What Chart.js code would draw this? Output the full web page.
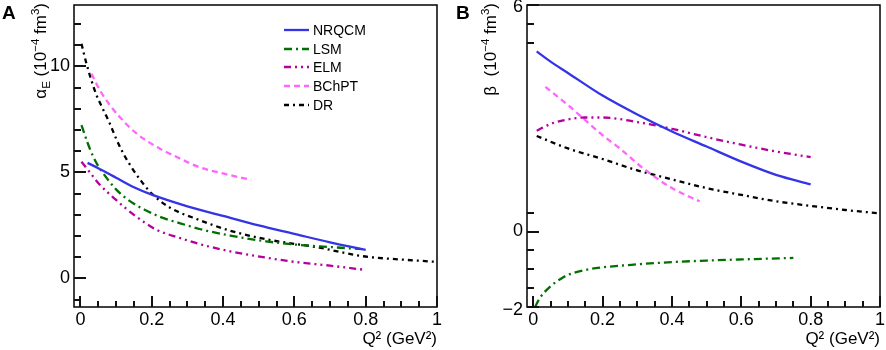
<!DOCTYPE html>
<html>
<head>
<meta charset="utf-8">
<script src="https://cdn.jsdelivr.net/npm/chart.js@4.4.0/dist/chart.umd.min.js"></script>
<style>
  body { margin: 0; background: #fff; }
  #wrap { position: relative; width: 886px; height: 350px; }
  canvas { position: absolute; top: 0; }
  #cA { left: 0; }
  #cB { left: 443px; }
</style>
</head>
<body>
<div id="wrap">
  <canvas id="cA" width="443" height="350"></canvas>
  <canvas id="cB" width="443" height="350"></canvas>
</div>
<script>
// ============================
// Dados - painel A (alpha_E)
// ============================
const qA_nrqcm = [0.02, 0.05, 0.1, 0.15, 0.2, 0.3, 0.4, 0.5, 0.6, 0.7, 0.8];
const aE_nrqcm = [5.45, 5.2, 4.75, 4.3, 3.95, 3.4, 2.95, 2.5, 2.1, 1.7, 1.35];

const qA_lsm = [0.003, 0.02, 0.036, 0.05, 0.064, 0.08, 0.1, 0.13, 0.16, 0.18, 0.227, 0.28, 0.334, 0.42, 0.52, 0.6, 0.7, 0.79];
const aE_lsm = [7.23, 6.4, 5.74, 5.3, 4.96, 4.6, 4.2, 3.75, 3.42, 3.24, 2.88, 2.6, 2.33, 2.02, 1.75, 1.6, 1.48, 1.38];

const qA_elm = [0.003, 0.036, 0.05, 0.1, 0.15, 0.213, 0.28, 0.334, 0.42, 0.52, 0.6, 0.7, 0.79];
const aE_elm = [5.5, 4.8, 4.5, 3.7, 3.0, 2.3, 1.9, 1.62, 1.28, 0.98, 0.78, 0.6, 0.42];

const qA_bchpt = [0.031, 0.055, 0.083, 0.11, 0.157, 0.222, 0.269, 0.33, 0.4, 0.479];
const aE_bchpt = [9.66, 8.87, 8.17, 7.62, 6.84, 6.13, 5.74, 5.27, 4.95, 4.65];

const qA_dr = [0.003, 0.017, 0.031, 0.045, 0.06, 0.08, 0.1, 0.12, 0.145, 0.17, 0.2, 0.25, 0.334, 0.42, 0.52, 0.67, 0.79, 0.9, 1.0];
const aE_dr = [11.07, 10.13, 9.34, 8.65, 8.1, 7.4, 6.6, 5.9, 5.2, 4.6, 4.0, 3.35, 2.75, 2.25, 1.85, 1.45, 1.05, 0.89, 0.78];

// ============================
// Dados - painel B (beta)
// ============================
const qB_nrqcm = [0.01, 0.05, 0.1, 0.2, 0.3, 0.4, 0.5, 0.6, 0.7, 0.8];
const bM_nrqcm = [4.77, 4.5, 4.2, 3.6, 3.1, 2.65, 2.25, 1.85, 1.5, 1.25];

const qB_lsm = [0.005, 0.02, 0.05, 0.08, 0.1, 0.15, 0.2, 0.3, 0.4, 0.5, 0.6, 0.75];
const bM_lsm = [-2.0, -1.75, -1.45, -1.25, -1.15, -1.02, -0.95, -0.87, -0.81, -0.77, -0.74, -0.7];

const qB_elm = [0.01, 0.05, 0.1, 0.15, 0.2, 0.3, 0.4, 0.5, 0.6, 0.7, 0.8];
const bM_elm = [2.67, 2.85, 2.97, 3.02, 3.02, 2.9, 2.72, 2.5, 2.3, 2.12, 1.97];

const qB_bchpt = [0.035, 0.1, 0.15, 0.2, 0.25, 0.3, 0.35, 0.4, 0.45, 0.48];
const bM_bchpt = [3.83, 3.35, 2.95, 2.55, 2.2, 1.8, 1.45, 1.15, 0.92, 0.8];

const qB_dr = [0.01, 0.1, 0.2, 0.3, 0.4, 0.5, 0.6, 0.7, 0.8, 0.9, 1.0];
const bM_dr = [2.53, 2.2, 1.92, 1.62, 1.38, 1.15, 0.97, 0.8, 0.68, 0.57, 0.48];

// ============================
// Eixos / ticks
// ============================
const xTicks = [0, 0.05, 0.1, 0.15, 0.2, 0.25, 0.3, 0.35, 0.4, 0.45, 0.5, 0.55, 0.6, 0.65, 0.7, 0.75, 0.8, 0.85, 0.9, 0.95, 1.0];
const xMajor = [0, 0.2, 0.4, 0.6, 0.8, 1.0];
const xMajorLabels = ["0", "0.2", "0.4", "0.6", "0.8", "1"];

const yTicksA = [-1, 0, 1, 2, 3, 4, 5, 6, 7, 8, 9, 10, 11, 12];
const yMajorA = [0, 5, 10];
const yMajorLabelsA = ["0", "5", "10"];

const yTicksB = [-2, -1.5, -1, -0.5, 0, 0.5, 5, 5.5, 6];
const yMajorB = [-2, 0, 6];
const yMajorLabelsB = ["\u22122", "0", "6"];

const seriesNames = ["NRQCM", "LSM", "ELM", "BChPT", "DR"];

const FONT = "'Liberation Sans', Arial, Helvetica, sans-serif";
const estilos = {
  NRQCM: { color: "#3434e6", dash: [] },
  LSM:   { color: "#007000", dash: [8, 4, 2, 4] },
  ELM:   { color: "#b4009c", dash: [7, 4, 2, 4, 2, 4] },
  BChPT: { color: "#ff66ff", dash: [6, 4] },
  DR:    { color: "#000000", dash: [5, 4, 2, 4] }
};

function labelFor(v, majors, labels) {
  const i = majors.findIndex(m => Math.abs(m - v) < 1e-9);
  return i >= 0 ? labels[i] : "";
}

function pts(xs, ys) {
  return xs.map((x, i) => ({ x: x, y: ys[i] }));
}

function drawVTitle(ctx, parts, cx, yTop, size) {
  ctx.save();
  let total = 0;
  const widths = parts.map(([t, s]) => {
    ctx.font = `${s ? size * 0.68 : size}px ${FONT}`;
    const w = ctx.measureText(t).width;
    total += w;
    return w;
  });
  ctx.translate(cx, yTop + total);
  ctx.rotate(-Math.PI / 2);
  ctx.textBaseline = "alphabetic";
  ctx.fillStyle = "#000";
  let xx = 0;
  parts.forEach(([t, s], i) => {
    ctx.font = `${s ? size * 0.68 : size}px ${FONT}`;
    const dy = size * 0.36 + (s < 0 ? size * 0.22 : s > 0 ? -size * 0.42 : 0);
    ctx.fillText(t, xx, dy);
    xx += widths[i];
  });
  ctx.restore();
}

// ============================
// Moldura, ticks internos, titulo e legenda
// ============================
function framePluginFor(o) {
  return {
    id: "frame" + o.letter,
    afterDraw(chart) {
      const ctx = chart.ctx;
      const a = chart.chartArea;
      const sx = chart.scales.x;
      const sy = chart.scales.y;
      ctx.save();
      ctx.setLineDash([]);
      ctx.strokeStyle = "#000";
      ctx.lineWidth = 1.5;
      ctx.strokeRect(a.left, a.top, a.right - a.left, a.bottom - a.top);

      // ticks para dentro (estilo ROOT)
      ctx.fillStyle = "#111";
      xTicks.forEach(v => {
        const px = Math.round(sx.getPixelForValue(v));
        const len = labelFor(v, xMajor, xMajorLabels) ? 11 : 6;
        ctx.fillRect(px - 1, a.bottom - len, 2, len);
      });
      o.yTicks.forEach(v => {
        const py = Math.round(sy.getPixelForValue(v));
        const len = labelFor(v, o.yMajor, o.yMajorLabels) ? 12 : 7;
        ctx.fillRect(a.left, py - 1, len, 2);
      });

      // letra do painel
      ctx.fillStyle = "#000";
      ctx.font = `bold 19px ${FONT}`;
      ctx.textBaseline = "top";
      ctx.textAlign = "left";
      ctx.fillText(o.letter, o.letterX, 4);

      drawVTitle(ctx, o.yTitle, o.yTitleX, 3, 17);

      // legenda
      if (o.legend) {
        const ys = [30, 49, 67, 86, 105];
        ctx.font = `14px ${FONT}`;
        ctx.textBaseline = "middle";
        ctx.fillStyle = "#000";
        seriesNames.forEach((n, i) => {
          const st = estilos[n];
          ctx.strokeStyle = st.color;
          ctx.lineWidth = 2.3;
          ctx.setLineDash(st.dash);
          ctx.beginPath();
          ctx.moveTo(284, ys[i]);
          ctx.lineTo(309, ys[i]);
          ctx.stroke();
          ctx.setLineDash([]);
          ctx.fillText(n, 313, ys[i] + 1);
        });
      }
      ctx.restore();
    }
  };
}

function makeChart(id, datasetsXY, yMin, yMax, o, yWidth) {
  const ctx = document.getElementById(id).getContext("2d");
  return new Chart(ctx, {
    type: "line",
    data: {
      datasets: seriesNames.map((n, i) => ({
        label: n,
        data: pts(datasetsXY[i][0], datasetsXY[i][1]),
        borderColor: estilos[n].color,
        borderDash: estilos[n].dash,
        borderWidth: 2.3,
        pointRadius: 0,
        fill: false,
        cubicInterpolationMode: "monotone"
      }))
    },
    options: {
      responsive: false,
      animation: false,
      devicePixelRatio: 1,
      layout: { padding: { top: 5, right: 6, bottom: 0, left: 0 } },
      plugins: { legend: { display: false }, tooltip: { enabled: false } },
      scales: {
        x: {
          type: "linear",
          min: -0.018,
          max: 1.0,
          afterBuildTicks: s => { s.ticks = xTicks.map(v => ({ value: v })); },
          afterFit: s => { s.height = 43; s.paddingLeft = 0; s.paddingRight = 0; },
          ticks: {
            autoSkip: false,
            maxRotation: 0,
            padding: 2,
            color: "#000",
            font: { family: FONT, size: 18 },
            callback: v => labelFor(v, xMajor, xMajorLabels)
          },
          grid: { drawOnChartArea: false, drawTicks: false },
          border: { display: false },
          title: {
            display: true,
            text: "Q\u00b2 (GeV\u00b2)",
            align: "end",
            color: "#000",
            font: { family: FONT, size: 17 },
            padding: { top: 0, bottom: 0 }
          }
        },
        y: {
          type: "linear",
          min: yMin,
          max: yMax,
          afterBuildTicks: s => { s.ticks = o.yTicks.map(v => ({ value: v })); },
          afterFit: s => { s.width = yWidth; s.paddingTop = 0; s.paddingBottom = 0; },
          ticks: {
            autoSkip: false,
            padding: 4,
            color: "#000",
            font: c => ({ family: FONT, size: 18, lineHeight: o.labelShift(c.tick ? c.tick.value : 0) }),
            callback: v => {
              const l = labelFor(v, o.yMajor, o.yMajorLabels);
              // rotulos nas pontas ficam um pouco abaixo do tick, como no original
              return o.labelShift(v) !== 1.2 && l ? ["", l] : l;
            }
          },
          grid: { drawOnChartArea: false, drawTicks: false },
          border: { display: false }
        }
      }
    },
    plugins: [framePluginFor(o)]
  });
}

makeChart("cA",
  [[qA_nrqcm, aE_nrqcm], [qA_lsm, aE_lsm], [qA_elm, aE_elm], [qA_bchpt, aE_bchpt], [qA_dr, aE_dr]],
  -1.35, 12.9,
  {
    letter: "A", letterX: 2, legend: true,
    yTicks: yTicksA, yMajor: yMajorA, yMajorLabels: yMajorLabelsA,
    labelShift: v => 1.2,
    yTitleX: 40,
    yTitle: [["\u03b1", 0], ["E", -1], [" (10", 0], ["\u22124", 1], [" fm", 0], ["3", 1], [")", 0]]
  },
  74);

makeChart("cB",
  [[qB_nrqcm, bM_nrqcm], [qB_lsm, bM_lsm], [qB_elm, bM_elm], [qB_bchpt, bM_bchpt], [qB_dr, bM_dr]],
  -2, 6,
  {
    letter: "B", letterX: 13, legend: false,
    yTicks: yTicksB, yMajor: yMajorB, yMajorLabels: yMajorLabelsB,
    labelShift: v => (v === 6 ? "5px" : v === -2 ? "7px" : 1.2),
    yTitleX: 47,
    yTitle: [["\u03b2", 0], ["  (10", 0], ["\u22124", 1], [" fm", 0], ["3", 1], [")", 0]]
  },
  84);
</script>
</body>
</html>
